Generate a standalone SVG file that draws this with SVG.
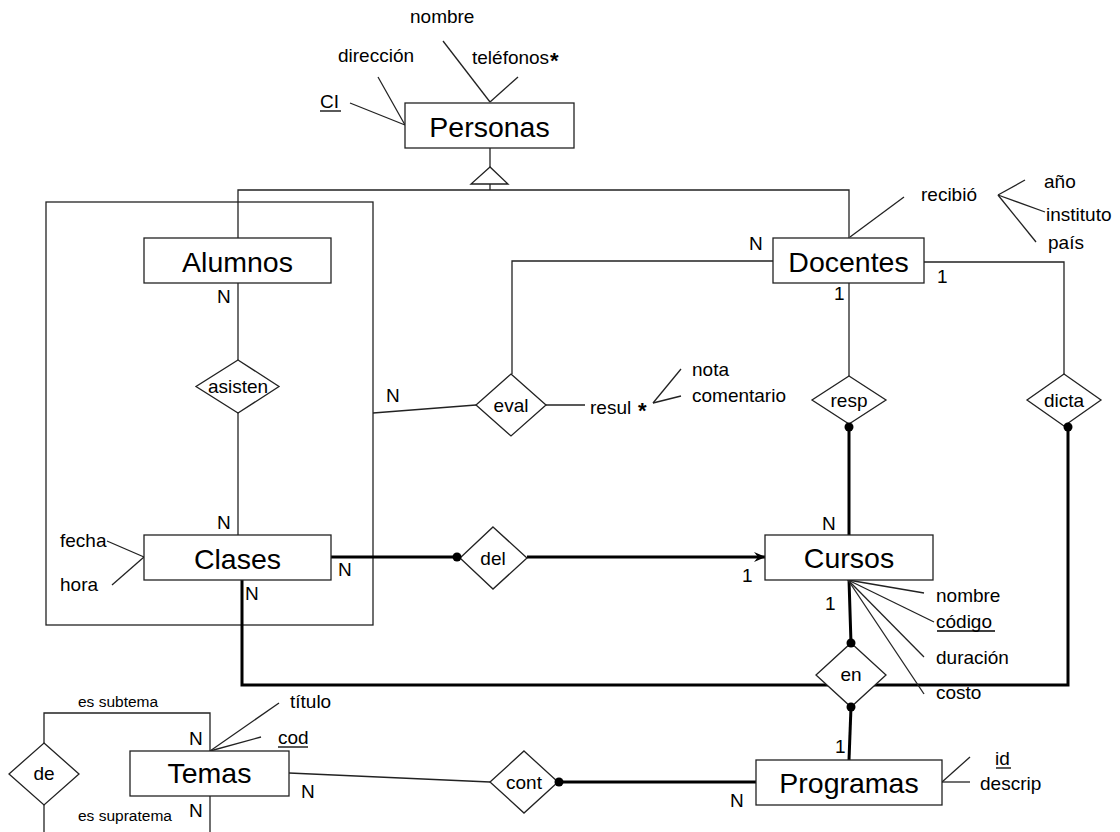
<svg xmlns="http://www.w3.org/2000/svg" width="1120" height="832" viewBox="0 0 1120 832">
<style>
text{font-family:"Liberation Sans",Arial,sans-serif;fill:#000}
.ent{font-size:28.5px;text-anchor:middle}
.lbl{font-size:19px}
.rel{font-size:19px;text-anchor:middle}
.sm{font-size:15.5px}
.box{fill:#fff;stroke:#222;stroke-width:1.3}
.dia{fill:#fff;stroke:#222;stroke-width:1.3}
.thin{fill:none;stroke:#222;stroke-width:1.3}
.thick{fill:none;stroke:#000;stroke-width:3}
.dot{fill:#000}
.ul{stroke:#000;stroke-width:1.3}
</style>
<defs>
<marker id="arr" viewBox="0 0 12 10" refX="11" refY="5" markerWidth="12" markerHeight="10" markerUnits="userSpaceOnUse" orient="auto">
<path d="M0,0 L12,5 L0,10 L4,5 Z" fill="#000"/>
</marker>
</defs>
<g id="connectors">
<rect x="46" y="202" width="327" height="423" class="thin"/>
<polyline points="490,148 490,167" class="thin"/>
<polygon points="490,167 471,184 508,184" class="dia"/>
<polyline points="490,184 490,190" class="thin"/>
<polyline points="238,238 238,190 849,190 849,238" class="thin"/>
<line x1="238" y1="283" x2="238" y2="360" class="thin"/>
<line x1="238" y1="413" x2="238" y2="535" class="thin"/>
<polyline points="773,261 512,261 512,374" class="thin"/>
<line x1="476" y1="405" x2="373" y2="413" class="thin"/>
<line x1="546" y1="405" x2="585" y2="405" class="thin"/>
<line x1="849" y1="283" x2="849" y2="377" class="thin"/>
<polyline points="924,262 1064,262 1064,374" class="thin"/>
<line x1="331" y1="557" x2="460" y2="557" class="thick"/>
<line x1="527" y1="557" x2="765" y2="557" class="thick" marker-end="url(#arr)"/>
<line x1="849" y1="427" x2="849" y2="535" class="thick"/>
<line x1="849" y1="580" x2="851" y2="643" class="thick"/>
<line x1="851" y1="707" x2="849" y2="760" class="thick"/>
<polyline points="242,580 242,685 1068,685 1068,427" class="thick"/>
<line x1="559" y1="782" x2="756" y2="782" class="thick"/>
<line x1="289" y1="773" x2="490" y2="782" class="thin"/>
<polyline points="44,743 44,713 210,713 210,751" class="thin"/>
<line x1="44" y1="805" x2="44" y2="832" class="thin"/>
<line x1="210" y1="796" x2="210" y2="832" class="thin"/>
<line x1="350" y1="103" x2="405" y2="125" class="thin"/>
<line x1="378" y1="77" x2="405" y2="125" class="thin"/>
<line x1="443" y1="41" x2="490" y2="102" class="thin"/>
<line x1="518" y1="77" x2="490" y2="102" class="thin"/>
<line x1="850" y1="237" x2="904" y2="197" class="thin"/>
<line x1="998" y1="195" x2="1025" y2="180" class="thin"/>
<line x1="998" y1="195" x2="1045" y2="212" class="thin"/>
<line x1="998" y1="195" x2="1036" y2="242" class="thin"/>
<line x1="653" y1="403" x2="681" y2="369" class="thin"/>
<line x1="653" y1="403" x2="681" y2="396" class="thin"/>
<line x1="107" y1="541" x2="144" y2="557" class="thin"/>
<line x1="112" y1="585" x2="144" y2="557" class="thin"/>
<line x1="848" y1="580" x2="924" y2="593" class="thin"/>
<line x1="848" y1="580" x2="934" y2="622" class="thin"/>
<line x1="848" y1="580" x2="924" y2="657" class="thin"/>
<line x1="848" y1="580" x2="924" y2="694" class="thin"/>
<line x1="210" y1="751" x2="279" y2="703" class="thin"/>
<line x1="210" y1="751" x2="261" y2="737" class="thin"/>
<line x1="942" y1="782" x2="970" y2="757" class="thin"/>
<line x1="942" y1="782" x2="970" y2="782" class="thin"/>
</g>
<g id="Personas">
<rect x="405" y="103" width="169" height="45" class="box"/>
<text x="489.5" y="137" class="ent">Personas</text>
<text x="320" y="108" class="lbl">CI</text>
<line x1="320" y1="111" x2="341" y2="111" class="ul"/>
<text x="338" y="62" class="lbl">dirección</text>
<text x="410" y="23" class="lbl">nombre</text>
<text x="472" y="64" class="lbl">teléfonos</text>
<text x="550" y="68" style="font-size:22px;font-weight:bold">*</text>
</g>
<g id="Alumnos">
<rect x="144" y="238" width="187" height="45" class="box"/>
<text x="237.5" y="272" class="ent">Alumnos</text>
<text x="217" y="303" class="lbl">N</text>
</g>
<g id="Docentes">
<rect x="773" y="238" width="151" height="45" class="box"/>
<text x="848.5" y="272" class="ent">Docentes</text>
<text x="749" y="250" class="lbl">N</text>
<text x="834" y="300" class="lbl">1</text>
<text x="937" y="283" class="lbl">1</text>
<text x="921" y="201" class="lbl">recibió</text>
<text x="1044" y="188" class="lbl">año</text>
<text x="1046" y="221" class="lbl">instituto</text>
<text x="1048" y="249" class="lbl">país</text>
</g>
<g id="asisten">
<polygon points="238,360 279,386.5 238,413 196,386.5" class="dia"/>
<text x="238" y="393" class="rel">asisten</text>
<text x="217" y="529" class="lbl">N</text>
</g>
<g id="eval">
<polygon points="511,374 546,405 511,436 476,405" class="dia"/>
<text x="511" y="412" class="rel">eval</text>
<text x="386" y="402" class="lbl">N</text>
<text x="590" y="414" class="lbl">resul</text>
<text x="638" y="418" style="font-size:22px;font-weight:bold">*</text>
<text x="692" y="376" class="lbl">nota</text>
<text x="692" y="402" class="lbl">comentario</text>
</g>
<g id="resp">
<polygon points="849,376 886,400 849,424 812,400" class="dia"/>
<text x="849" y="407" class="rel">resp</text>
<circle cx="849" cy="427" r="4.5" class="dot"/>
<text x="822" y="530" class="lbl">N</text>
</g>
<g id="dicta">
<polygon points="1064,374 1101,400 1064,426 1027,400" class="dia"/>
<text x="1064" y="407" class="rel">dicta</text>
<circle cx="1068" cy="427" r="4.5" class="dot"/>
</g>
<g id="Clases">
<rect x="144" y="535" width="187" height="45" class="box"/>
<text x="237.5" y="569" class="ent">Clases</text>
<text x="60" y="547" class="lbl">fecha</text>
<text x="60" y="591" class="lbl">hora</text>
<text x="338" y="576" class="lbl">N</text>
<text x="245" y="600" class="lbl">N</text>
</g>
<g id="del">
<polygon points="493,527 527,558 493,589 460,558" class="dia"/>
<text x="493" y="565" class="rel">del</text>
<circle cx="457" cy="557" r="4.5" class="dot"/>
<text x="742" y="582" class="lbl">1</text>
</g>
<g id="Cursos">
<rect x="765" y="535" width="168" height="45" class="box"/>
<text x="849" y="568" class="ent">Cursos</text>
<text x="825" y="610" class="lbl">1</text>
<text x="936" y="602" class="lbl">nombre</text>
<text x="936" y="628" class="lbl">código</text>
<line x1="937" y1="631" x2="995" y2="631" class="ul"/>
<text x="936" y="664" class="lbl">duración</text>
<text x="936" y="699" class="lbl">costo</text>
</g>
<g id="en">
<polygon points="851,643 886,675 851,707 816,675" class="dia"/>
<text x="851" y="681" class="rel">en</text>
<circle cx="851" cy="643" r="4.5" class="dot"/>
<circle cx="851" cy="707" r="4.5" class="dot"/>
<text x="835" y="753" class="lbl">1</text>
</g>
<g id="Programas">
<rect x="756" y="760" width="186" height="45" class="box"/>
<text x="849" y="793" class="ent">Programas</text>
<text x="995" y="765" class="lbl">id</text>
<line x1="996" y1="768" x2="1011" y2="768" class="ul"/>
<text x="980" y="790" class="lbl">descrip</text>
<text x="730" y="807" class="lbl">N</text>
</g>
<g id="cont">
<polygon points="524,751 558,782 524,813 490,782" class="dia"/>
<text x="524" y="789" class="rel">cont</text>
<circle cx="559" cy="782" r="4.5" class="dot"/>
</g>
<g id="Temas">
<rect x="130" y="751" width="159" height="45" class="box"/>
<text x="209.5" y="783" class="ent">Temas</text>
<text x="189" y="745" class="lbl">N</text>
<text x="189" y="817" class="lbl">N</text>
<text x="301" y="798" class="lbl">N</text>
<text x="290" y="708" class="lbl">título</text>
<text x="278" y="744" class="lbl">cod</text>
<line x1="278" y1="747" x2="308" y2="747" class="ul"/>
</g>
<g id="de">
<polygon points="44,743 79,774 44,805 9,774" class="dia"/>
<text x="44" y="780" class="rel">de</text>
<text x="78" y="707" class="sm">es subtema</text>
<text x="78" y="821" class="sm">es supratema</text>
</g>
</svg>
